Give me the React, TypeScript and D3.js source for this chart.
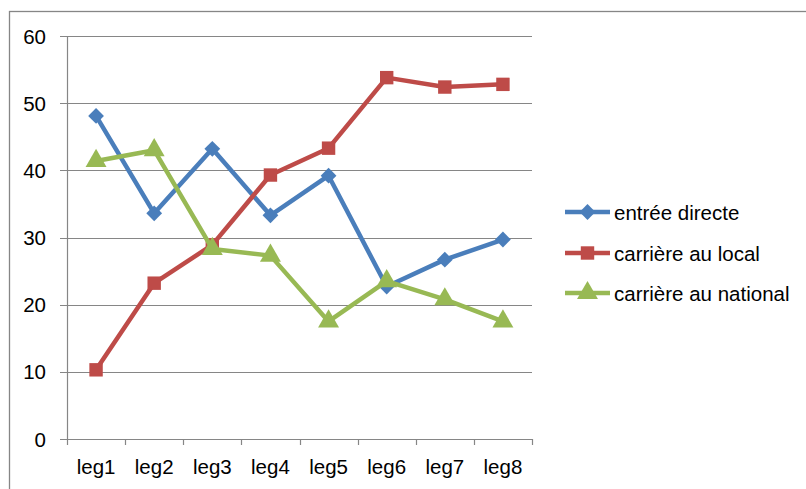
import { useEffect, useRef } from 'react';
import * as d3 from 'd3';

const categories = ['leg1', 'leg2', 'leg3', 'leg4', 'leg5', 'leg6', 'leg7', 'leg8'];
const entreeDirecte = [48.1, 33.6, 43.2, 33.3, 39.2, 22.7, 26.7, 29.7];
const carriereLocal = [10.3, 23.2, 28.9, 39.3, 43.3, 53.8, 52.4, 52.8];
const carriereNational = [41.4, 43.0, 28.3, 27.3, 17.5, 23.5, 20.8, 17.5];
const yTicks = [0, 10, 20, 30, 40, 50, 60];

const seriesNames = ['entrée directe', 'carrière au local', 'carrière au national'];
const seriesColors = ['#4A7EBB', '#BE4B48', '#98B954'];
const seriesShapes = ['diamond', 'square', 'triangle'];

const W = 806;
const H = 489;
const FONT = '"Liberation Sans", Arial, sans-serif';
const FS = '20.5px';

export default function App() {
  const svgRef = useRef<SVGSVGElement>(null);

  useEffect(() => {
    if (!svgRef.current) return;
    const svg = d3.select(svgRef.current);
    svg.selectAll('*').remove();

    // outer chart border
    svg
      .append('rect')
      .attr('x', 9.5)
      .attr('y', 11.5)
      .attr('width', W + 20)
      .attr('height', H + 20)
      .style('fill', '#fff')
      .style('stroke', '#868686')
      .style('stroke-width', 1.3);

    const x = d3.scaleBand().domain(categories).range([67, 532]);
    const y = d3.scaleLinear().domain([0, 60]).range([439, 36]);

    // grid lines
    svg
      .selectAll('.grid')
      .data(yTicks)
      .enter()
      .append('line')
      .attr('x1', 60)
      .attr('x2', 532)
      .attr('y1', (d) => Math.round(y(d)) + 0.5)
      .attr('y2', (d) => Math.round(y(d)) + 0.5)
      .style('stroke', '#868686')
      .style('stroke-width', 1.2);

    // y axis line
    svg
      .append('line')
      .attr('x1', 67.5)
      .attr('x2', 67.5)
      .attr('y1', y(60))
      .attr('y2', y(0))
      .style('stroke', '#868686')
      .style('stroke-width', 1.2);

    // x axis ticks at band edges
    const edges = categories.map((c) => x(c)!).concat([x.range()[1]]);
    svg
      .selectAll('.xtick')
      .data(edges)
      .enter()
      .append('line')
      .attr('x1', (d) => Math.round(d) + 0.5)
      .attr('x2', (d) => Math.round(d) + 0.5)
      .attr('y1', y(0))
      .attr('y2', y(0) + 6)
      .style('stroke', '#868686')
      .style('stroke-width', 1.2);

    // y tick labels
    svg
      .selectAll('.ylab')
      .data(yTicks)
      .enter()
      .append('text')
      .attr('x', 46)
      .attr('y', (d) => y(d) + 7.5)
      .attr('text-anchor', 'end')
      .style('font-family', FONT)
      .style('font-size', FS)
      .style('fill', '#000')
      .text((d) => d);

    // x tick labels
    svg
      .selectAll('.xlab')
      .data(categories)
      .enter()
      .append('text')
      .attr('x', (d) => x(d)! + x.bandwidth() / 2)
      .attr('y', 474)
      .attr('text-anchor', 'middle')
      .style('font-family', FONT)
      .style('font-size', FS)
      .style('fill', '#000')
      .text((d) => d);

    const symbolFor = (shape: string) => {
      if (shape === 'diamond') return d3.symbol().type(d3.symbolSquare).size(125)();
      if (shape === 'square') return d3.symbol().type(d3.symbolSquare).size(180)();
      return d3.symbol().type(d3.symbolTriangle).size(190)();
    };
    const rotFor = (shape: string) => (shape === 'diamond' ? ' rotate(45)' : '');

    const allSeries = [entreeDirecte, carriereLocal, carriereNational];
    const line = d3
      .line<number>()
      .x((_, i) => x(categories[i])! + x.bandwidth() / 2)
      .y((d) => y(d));

    allSeries.forEach((values, si) => {
      const color = seriesColors[si];
      svg
        .append('path')
        .datum(values)
        .attr('d', line)
        .style('fill', 'none')
        .style('stroke', color)
        .style('stroke-width', 4.5)
        .style('stroke-linejoin', 'round');

      svg
        .selectAll(`.pt${si}`)
        .data(values)
        .enter()
        .append('path')
        .attr('d', symbolFor(seriesShapes[si]))
        .attr(
          'transform',
          (d, i) =>
            `translate(${x(categories[i])! + x.bandwidth() / 2},${y(d)})${rotFor(seriesShapes[si])}`
        )
        .style('fill', color);
    });

    // legend
    const legendY = [212, 253, 293];
    seriesNames.forEach((name, si) => {
      const g = svg.append('g').attr('transform', `translate(0,${legendY[si]})`);
      g.append('line')
        .attr('x1', 565)
        .attr('x2', 610)
        .attr('y1', 0)
        .attr('y2', 0)
        .style('stroke', seriesColors[si])
        .style('stroke-width', 4.5);
      g.append('path')
        .attr('d', symbolFor(seriesShapes[si]))
        .attr('transform', `translate(587.5,0)${rotFor(seriesShapes[si])}`)
        .style('fill', seriesColors[si]);
      g.append('text')
        .attr('x', 614)
        .attr('y', 7.5)
        .style('font-family', FONT)
        .style('font-size', FS)
        .style('fill', '#000')
        .text(name);
    });
  }, []);

  return (
    <svg
      ref={svgRef}
      width={W}
      height={H}
      style={{ position: 'absolute', left: 0, top: 0, background: '#fff' }}
    />
  );
}
